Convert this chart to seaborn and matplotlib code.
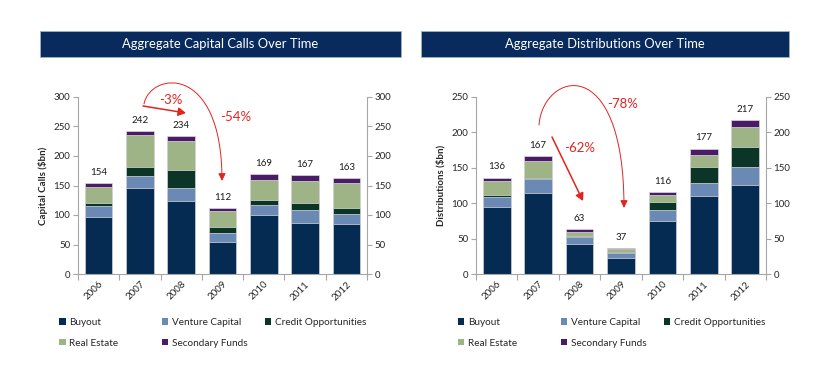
import numpy as np
import pandas as pd
import matplotlib
matplotlib.use("Agg")
import matplotlib.pyplot as plt
import seaborn as sns
from matplotlib.patches import Rectangle, FancyArrowPatch, Patch
from matplotlib.path import Path

# ---------------- data ----------------
years = ["2006", "2007", "2008", "2009", "2010", "2011", "2012"]
series = ["Buyout", "Venture Capital", "Credit Opportunities", "Real Estate", "Secondary Funds"]

calls_buyout = [96, 146, 124, 54, 100, 87, 84]
calls_vc = [19, 20, 21, 15, 17, 21, 18]
calls_credit = [5, 16, 32, 10, 9, 12, 10]
calls_real_estate = [28, 53, 48, 28, 34, 37, 42]
calls_secondary = [6, 7, 9, 5, 9, 10, 9]

dist_buyout = [95, 115, 43, 22, 75, 110, 126]
dist_vc = [14, 19, 9, 7, 16, 18, 25]
dist_credit = [2, 2, 2, 2, 11, 23, 29]
dist_real_estate = [20, 24, 6, 4, 9, 17, 27]
dist_secondary = [5, 7, 3, 2, 5, 9, 10]

colors = ["#062B52", "#6A89B5", "#0B3527", "#9EB486", "#4A1B66"]
RED = "#E2231F"
NAVY = "#082A5C"

sns.set_style("white")
plt.rcParams["font.family"] = ["Lato", "DejaVu Sans"]

W, H = 828, 391
fig = plt.figure(figsize=(W / 100, H / 100), dpi=100)


def fx(x):
    return x / W


def fy(y):
    return 1 - y / H


def draw(ax, layers, ymax, step, ylabel):
    arr = np.array(layers, dtype=float)
    cum = np.cumsum(arr, axis=0)
    for i in range(len(series) - 1, -1, -1):
        df = pd.DataFrame({"year": years, "v": cum[i]})
        sns.barplot(data=df, x="year", y="v", color=colors[i], saturation=1,
                    width=0.67, edgecolor="#dcdcdc", linewidth=0.5,
                    errorbar=None, ax=ax)
    totals = cum[-1]
    for i, t in enumerate(totals):
        ax.annotate(f"{int(round(t))}", (i, t), xytext=(0, 4.5),
                    textcoords="offset points", ha="center", va="bottom",
                    fontsize=7, color="#1a1a1a")
    ax.set_xlim(-0.5, len(years) - 0.5)
    ax.set_ylim(0, ymax)
    ticks = np.arange(0, ymax + 1, step)
    ax.set_yticks(ticks)
    ax.set_xlabel("")
    ax.set_ylabel(ylabel, fontsize=7, fontweight="bold", labelpad=4)
    for s in ["top", "right"]:
        ax.spines[s].set_visible(False)
    for s in ["left", "bottom"]:
        ax.spines[s].set_color("#a6a6a6")
        ax.spines[s].set_linewidth(0.8)
    ax.tick_params(axis="y", direction="out", length=3.5, width=0.8,
                   color="#a6a6a6", labelsize=7, pad=2, left=True)
    ax.set_xticks(np.arange(-0.5, len(years), 1), minor=True)
    ax.tick_params(axis="x", which="major", length=0, labelsize=7, pad=4)
    ax.tick_params(axis="x", which="minor", direction="out", length=4,
                   width=0.8, color="#a6a6a6", bottom=True)
    for lab in ax.get_xticklabels():
        lab.set_rotation(45)
        lab.set_ha("right")
        lab.set_rotation_mode("anchor")
    ax2 = ax.twinx()
    ax2.set_ylim(0, ymax)
    ax2.set_yticks(ticks)
    for s in ["top", "left", "bottom"]:
        ax2.spines[s].set_visible(False)
    ax2.spines["right"].set_color("#a6a6a6")
    ax2.spines["right"].set_linewidth(0.8)
    ax2.tick_params(axis="y", direction="out", length=3.5, width=0.8,
                    color="#a6a6a6", labelsize=7, pad=2, right=True)
    ax2.grid(False)
    ax.grid(False)


axL = fig.add_axes([fx(78), fy(274), fx(367 - 78), (274 - 97) / H])
draw(axL, [calls_buyout, calls_vc, calls_credit, calls_real_estate, calls_secondary],
     300, 50, "Capital Calls ($bn)")
axR = fig.add_axes([fx(476), fy(274), fx(766 - 476), (274 - 97) / H])
draw(axR, [dist_buyout, dist_vc, dist_credit, dist_real_estate, dist_secondary],
     250, 50, "Distributions ($bn)")

# ---------------- title banners ----------------
for (x0, x1, title) in [(40, 401, "Aggregate Capital Calls Over Time"),
                        (421, 789, "Aggregate Distributions Over Time")]:
    fig.add_artist(Rectangle((fx(x0), fy(57)), fx(x1 - x0), 26 / H,
                             transform=fig.transFigure, facecolor=NAVY,
                             edgecolor="#9fb0cc", linewidth=0.6))
    fig.text(fx((x0 + x1) / 2), fy(44.5), title, color="white", fontsize=9.4,
             ha="center", va="center")

# ---------------- annotations ----------------
def curve(p0, c1, c2, p3):
    verts = [(fx(p[0]), fy(p[1])) for p in (p0, c1, c2, p3)]
    path = Path(verts, [Path.MOVETO, Path.CURVE4, Path.CURVE4, Path.CURVE4])
    fig.add_artist(FancyArrowPatch(path=path, transform=fig.transFigure,
                                   arrowstyle="-|>,head_length=0.45,head_width=0.22",
                                   mutation_scale=10, color=RED, lw=0.7))


def straight(p0, p1):
    fig.add_artist(FancyArrowPatch((fx(p0[0]), fy(p0[1])), (fx(p1[0]), fy(p1[1])),
                                   transform=fig.transFigure,
                                   arrowstyle="-|>,head_length=0.45,head_width=0.25",
                                   mutation_scale=10, color=RED, lw=1.1,
                                   shrinkA=0, shrinkB=0))


curve((144, 104), (150, 72), (222, 62), (222, 181))
straight((143, 106), (186, 113))
fig.text(fx(171), fy(100), "-3%", color=RED, fontsize=9.5, ha="center", va="center")
fig.text(fx(236), fy(117), "-54%", color=RED, fontsize=9.5, ha="center", va="center")

curve((539, 125), (543, 72), (624, 50), (624, 208))
straight((552, 137), (583, 201))
fig.text(fx(580), fy(148), "-62%", color=RED, fontsize=9.5, ha="center", va="center")
fig.text(fx(623), fy(104), "-78%", color=RED, fontsize=9.5, ha="center", va="center")

# ---------------- legends ----------------
handles = [Patch(facecolor=c, edgecolor="none") for c in colors]
cols = [[0, 3], [1, 4], [2]]
for base, offsets in [(59, (0, 103, 206)), (458, (0, 103, 206))]:
    for col, off in zip(cols, offsets):
        fig.legend([handles[i] for i in col], [series[i] for i in col],
                   loc="upper left", bbox_to_anchor=(fx(base + off), fy(318)),
                   frameon=False, fontsize=7.2, handlelength=0.65,
                   handleheight=0.65, handletextpad=0.35, labelspacing=1.15,
                   borderpad=0, borderaxespad=0)

fig.savefig("out.png", dpi=100)
